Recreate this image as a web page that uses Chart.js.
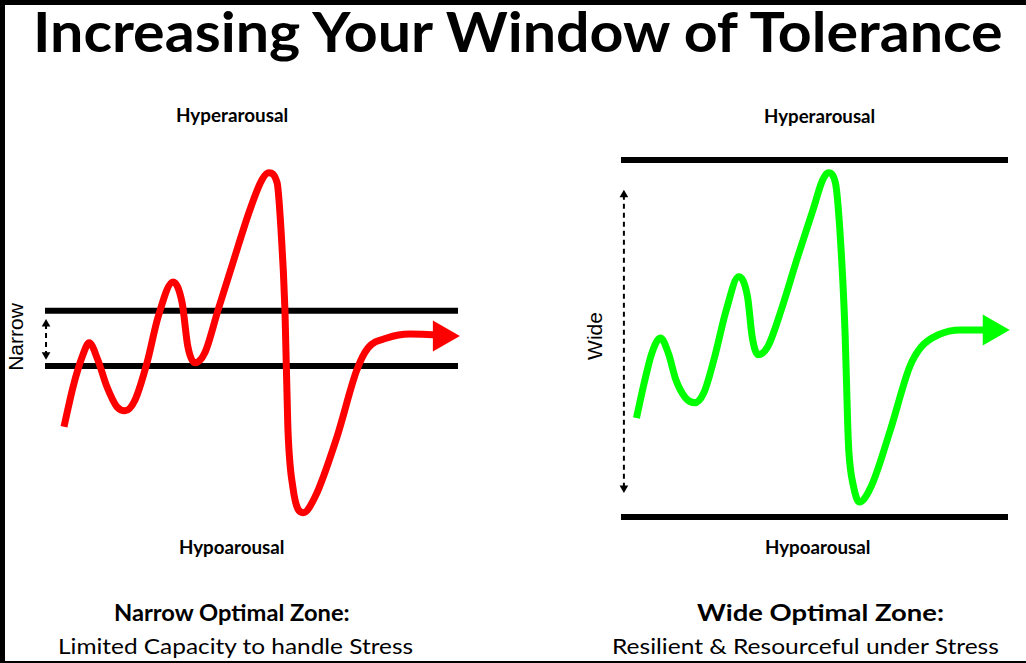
<!DOCTYPE html>
<html>
<head>
<meta charset="utf-8">
<title>Increasing Your Window of Tolerance</title>
<script src="https://cdn.jsdelivr.net/npm/chart.js@4.4.1/dist/chart.umd.min.js"></script>
<style>
    html, body { margin: 0; padding: 0; background: #fff; }
    #frame { position: relative; width: 1026px; height: 663px; overflow: hidden; background: #fff; }
    .edge { position: absolute; background: #000; }
    .txt { position: absolute; white-space: nowrap; transform-origin: 0 0; font-family: Lato, "Open Sans", sans-serif; color: #000; line-height: 1; }
    .side { position: absolute; white-space: nowrap; font-family: "Liberation Sans", Arial, sans-serif; font-size: 21px; line-height: 1; color: #000; transform: translate(-50%, -50%) rotate(-90deg); }
    canvas { position: absolute; }
</style>
</head>
<body>
<div id="frame">
    <div class="edge" style="left:0;top:0;width:1026px;height:5px;"></div>
    <div class="edge" style="left:0;top:0;width:5px;height:663px;"></div>
    <div class="edge" style="left:0;top:661px;width:1026px;height:2px;"></div>

    <div class="txt" data-cx="518" data-base="53" data-w="970" style="font-size:56px;font-weight:700;">Increasing Your Window of Tolerance</div>

    <div class="txt" data-cx="232" data-base="122" data-w="112" style="font-size:18px;font-weight:700;">Hyperarousal</div>
    <div class="txt" data-cx="819" data-base="123" data-w="111" style="font-size:18px;font-weight:700;">Hyperarousal</div>
    <div class="txt" data-cx="231" data-base="554" data-w="105" style="font-size:18px;font-weight:700;">Hypoarousal</div>
    <div class="txt" data-cx="817" data-base="554" data-w="105" style="font-size:18px;font-weight:700;">Hypoarousal</div>

    <div class="txt" data-cx="232" data-base="622" data-w="236" style="font-size:22px;font-weight:700;">Narrow Optimal Zone:</div>
    <div class="txt" data-cx="235" data-base="655" data-w="355" style="font-size:22px;">Limited Capacity to handle Stress</div>
    <div class="txt" data-cx="820" data-base="622" data-w="247" style="font-size:22px;font-weight:700;">Wide Optimal Zone:</div>
    <div class="txt" data-cx="805" data-base="655" data-w="387" style="font-size:22px;">Resilient &amp; Resourceful under Stress</div>

    <div class="side" style="left:15px;top:337px;">Narrow</div>
    <div class="side" style="left:594px;top:336px;">Wide</div>

    <canvas id="narrow-canvas" width="513" height="440" style="left:0;top:120px;"></canvas>
    <canvas id="wide-canvas" width="513" height="440" style="left:513px;top:120px;"></canvas>
</div>
<script>
"use strict";
// x = time (0..100 across the window), y = arousal level (0..100)
const narrowTime = [4.6, 6.8, 9.0, 10.7, 12.8, 15.0, 17.4, 19.4, 21.8, 24.7, 27.4, 31.0, 33.2, 34.6, 36.3, 38.7, 41.9, 45.5, 49.6, 52.5, 54.2, 56.2, 57.1, 58.1, 58.8, 60.0, 62.5, 65.4, 70.7, 75.5, 78.2, 82.8, 88.4, 94.7];
const narrowArousal = [28.3, 38.3, 45.8, 49.3, 45.0, 38.3, 33.3, 32.3, 35.0, 44.3, 55.8, 64.5, 59.3, 48.3, 44.3, 46.8, 57.5, 69.3, 82.5, 90.0, 91.8, 89.3, 78.3, 57.5, 28.3, 13.3, 6.8, 10.8, 25.8, 42.5, 48.0, 50.5, 51.5, 51.3];
const narrowArrow = { x: 96.1, y: 51.0 };
const narrowBands = [57.3, 43.5];
const narrowGauge = { x: 0.25, top: 54.0, bottom: 46.3 };

const wideTime = [4.0, 6.0, 8.0, 10.2, 12.2, 14.2, 16.7, 19.0, 21.4, 24.2, 27.2, 30.4, 32.7, 33.9, 35.4, 37.9, 41.4, 45.4, 49.6, 52.1, 53.6, 55.4, 56.6, 57.9, 58.6, 58.9, 60.1, 61.6, 64.6, 69.6, 74.6, 77.6, 82.0, 87.8, 94.0];
const wideArousal = [30.5, 39.3, 46.8, 50.5, 46.8, 40.0, 35.5, 34.3, 36.8, 45.8, 57.5, 65.8, 60.8, 50.8, 46.3, 48.3, 57.5, 70.0, 82.5, 90.0, 91.8, 89.3, 76.8, 51.8, 28.3, 21.8, 13.3, 9.5, 13.3, 27.5, 43.3, 48.3, 51.3, 52.5, 52.5];
const wideArrow = { x: 95.8, y: 52.5 };
const wideBands = [95.0, 5.75];
const wideGauge = { x: 0.75, top: 86.3, bottom: 13.0 };

function toPoints(xs, ys) {
    return xs.map((x, i) => ({ x: x, y: ys[i] }));
}

function createChart(canvasId, xs, ys, color, arrow, bands, gauge, padding) {
    let ctx = document.getElementById(canvasId).getContext("2d");
    let datasets = [
        {
            data: toPoints(xs, ys),
            showLine: true,
            borderColor: color,
            borderWidth: 7,
            cubicInterpolationMode: "monotone",
            pointRadius: 0,
            clip: false,
            order: 1,
        },
        {
            data: [arrow],
            showLine: false,
            pointStyle: "triangle",
            pointRotation: 90,
            pointRadius: 18,
            pointBackgroundColor: color,
            pointBorderColor: color,
            pointBorderWidth: 0,
            clip: false,
            order: 0,
        },
        {
            data: [{ x: gauge.x, y: gauge.top }, { x: gauge.x, y: gauge.bottom }],
            showLine: true,
            borderColor: "#000",
            borderWidth: 2,
            borderDash: [5, 4],
            pointStyle: "triangle",
            pointRotation: [0, 180],
            pointRadius: 5,
            pointBackgroundColor: "#000",
            pointBorderColor: "#000",
            pointBorderWidth: 0,
            clip: false,
            order: 3,
        },
    ];
    bands.forEach(b => {
        datasets.push({
            data: [{ x: 0, y: b }, { x: 100, y: b }],
            showLine: true,
            borderColor: "#000",
            borderWidth: 6,
            pointRadius: 0,
            clip: false,
            order: 2,
        });
    });
    new Chart(ctx, {
        type: "scatter",
        data: { datasets: datasets },
        options: {
            responsive: false,
            animation: false,
            devicePixelRatio: 1,
            layout: { padding: padding },
            plugins: { legend: { display: false }, tooltip: { enabled: false } },
            scales: {
                x: { type: "linear", min: 0, max: 100, display: false },
                y: { type: "linear", min: 0, max: 100, display: false },
            },
        },
    });
}

function placeTexts() {
    document.querySelectorAll(".txt").forEach(el => {
        let size = parseFloat(el.style.fontSize);
        let w = el.offsetWidth;
        let target = parseFloat(el.dataset.w);
        let s = target / w;
        el.style.left = (parseFloat(el.dataset.cx) - target / 2) + "px";
        el.style.top = (parseFloat(el.dataset.base) - 0.887 * size) + "px";
        el.style.transform = "scaleX(" + s.toFixed(4) + ")";
    });
}

placeTexts();
createChart("narrow-canvas", narrowTime, narrowArousal, "#ff0000", narrowArrow, narrowBands, narrowGauge,
    { left: 45, right: 55, top: 20, bottom: 20 });
createChart("wide-canvas", wideTime, wideArousal, "#00ff00", wideArrow, wideBands, wideGauge,
    { left: 108, right: 4, top: 20, bottom: 20 });
</script>
</body>
</html>
